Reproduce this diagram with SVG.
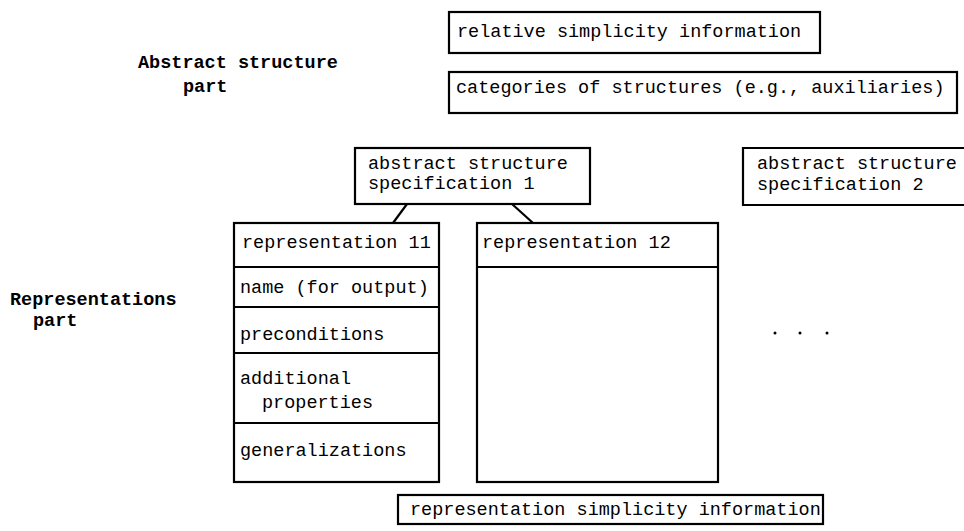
<svg xmlns="http://www.w3.org/2000/svg" width="964" height="531" viewBox="0 0 964 531">
<style>
  .box { fill: #fff; stroke: #000; stroke-width: 2.2; }
  .ln { fill: none; stroke: #000; stroke-width: 2.2; }
  .t { font-family: "Liberation Mono", "DejaVu Sans Mono", monospace; font-size: 18.5px; fill: #000; }
  .lbl { font-family: "Liberation Mono", "DejaVu Sans Mono", monospace; font-size: 18.5px; font-weight: bold; fill: #000; }
</style>
<rect width="964" height="531" fill="#fff"/>
<g id="label-abstract">
  <text class="lbl" x="138" y="68">Abstract structure</text>
  <text class="lbl" x="183" y="92">part</text>
</g>
<g id="label-representations">
  <text class="lbl" x="10" y="305">Representations</text>
  <text class="lbl" x="33" y="326">part</text>
</g>
<g id="relative-simplicity">
  <rect class="box" x="449" y="12" width="371" height="41"/>
  <text class="t" x="457" y="37">relative simplicity information</text>
</g>
<g id="categories">
  <rect class="box" x="449" y="72" width="508" height="41"/>
  <text class="t" x="456" y="93">categories of structures (e.g., auxiliaries)</text>
</g>
<g id="spec1">
  <rect class="box" x="355" y="148" width="235" height="56"/>
  <text class="t" x="368" y="169">abstract structure</text>
  <text class="t" x="368" y="189">specification 1</text>
</g>
<g id="spec2">
  <path class="ln" d="M964,148 H743 V205 H964"/>
  <text class="t" x="757" y="169">abstract structure</text>
  <text class="t" x="757" y="190">specification 2</text>
</g>
<g id="connectors">
  <line class="ln" x1="407" y1="204" x2="393" y2="223"/>
  <line class="ln" x1="512" y1="204" x2="533" y2="223"/>
</g>
<g id="rep11">
  <rect class="box" x="234" y="223" width="205" height="259"/>
  <line class="ln" x1="234" y1="267" x2="439" y2="267"/>
  <line class="ln" x1="234" y1="307" x2="439" y2="307"/>
  <line class="ln" x1="234" y1="353" x2="439" y2="353"/>
  <line class="ln" x1="234" y1="423" x2="439" y2="423"/>
  <text class="t" x="242" y="248">representation 11</text>
  <text class="t" x="240" y="293">name (for output)</text>
  <text class="t" x="240" y="340">preconditions</text>
  <text class="t" x="240" y="384">additional</text>
  <text class="t" x="262" y="408">properties</text>
  <text class="t" x="240" y="456">generalizations</text>
</g>
<g id="rep12">
  <rect class="box" x="477" y="223" width="241" height="259"/>
  <line class="ln" x1="477" y1="267" x2="718" y2="267"/>
  <text class="t" x="482" y="248">representation 12</text>
</g>
<g id="ellipsis">
  <circle cx="775" cy="333" r="1.5" fill="#000"/>
  <circle cx="800" cy="333" r="1.5" fill="#000"/>
  <circle cx="827" cy="333" r="1.5" fill="#000"/>
</g>
<g id="rep-simplicity">
  <rect class="box" x="398" y="495" width="425" height="29"/>
  <text class="t" x="410" y="515">representation simplicity information</text>
</g>
</svg>
